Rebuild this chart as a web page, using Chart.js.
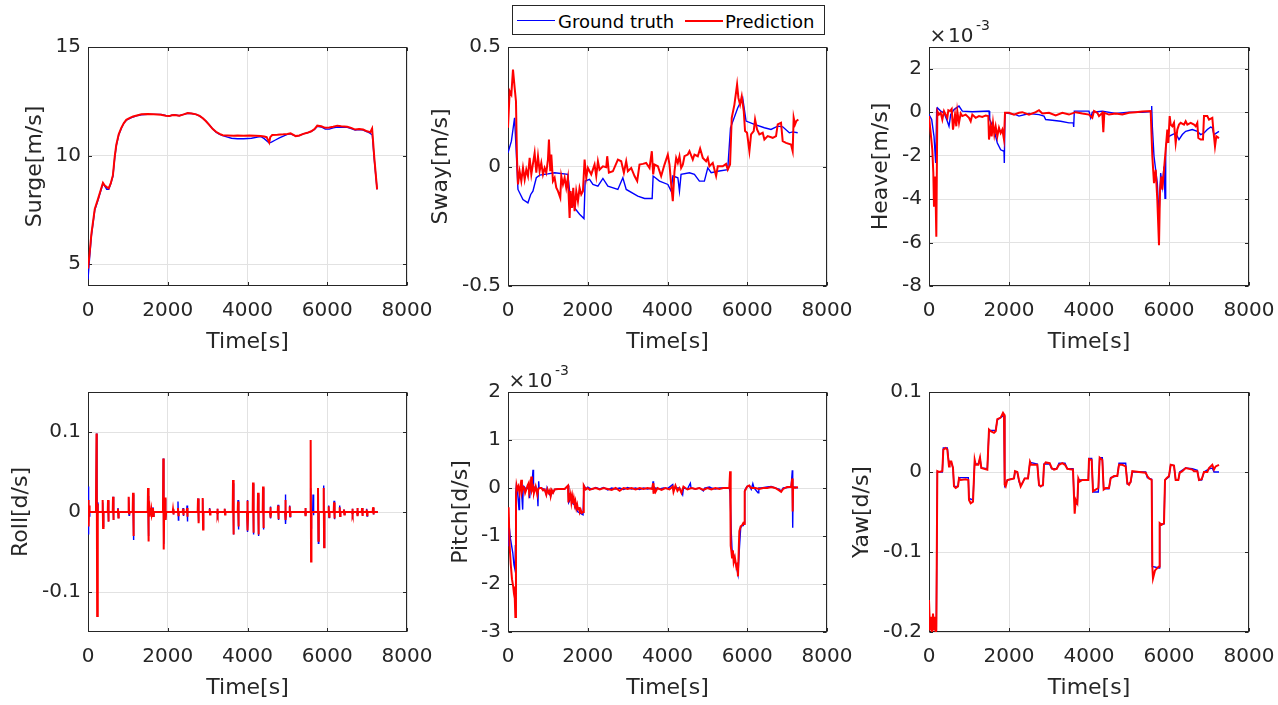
<!DOCTYPE html>
<html><head><meta charset="utf-8">
<script src="https://cdn.jsdelivr.net/npm/chart.js@4.4.1/dist/chart.umd.min.js"></script>
<style>
html,body{margin:0;padding:0;background:#fff;}
body{width:1278px;height:705px;position:relative;overflow:hidden;}
canvas{position:absolute;}
#legend{position:absolute;left:512px;top:5px;width:311px;height:28px;border:1px solid #262626;background:#fff;z-index:5;font-family:"DejaVu Sans",sans-serif;font-size:18px;color:#000;}
#legend .ln{position:absolute;top:14px;width:38px;height:1.3px;}
#legend .lt{position:absolute;top:2px;line-height:28px;white-space:nowrap;}
</style></head><body>
<div id="legend">
  <span class="ln" style="left:4px;background:#0000ff"></span><span class="lt" style="left:45px">Ground truth</span>
  <span class="ln" style="left:172px;background:#ff0000;height:1.8px"></span><span class="lt" style="left:212px">Prediction</span>
</div>
<script>
// ---------- tick values ----------
const timeTicks = [0, 2000, 4000, 6000, 8000];
const surgeTicks = [5, 10, 15];
const swayTicks = [-0.5, 0, 0.5];
const heaveTicks = [-8, -6, -4, -2, 0, 2];     // x 10^-3
const rollTicks = [-0.1, 0, 0.1];
const pitchTicks = [-3, -2, -1, 0, 1, 2];      // x 10^-3
const yawTicks = [-0.2, -0.1, 0, 0.1];

// ---------- data: [time s, value] ----------
const surgeGT = [[0,4.3],[40,5.3],[85,6.3],[170,7.5],[250,7.95],[375,8.72],[420,8.6],[470,8.45],[520,8.45],[570,8.7],[625,9.05],[670,9.9],[710,10.45],[770,10.95],[835,11.25],[900,11.5],[960,11.63],[1050,11.72],[1130,11.78],[1250,11.85],[1340,11.88],[1500,11.9],[1650,11.9],[1830,11.9],[1950,11.85],[2040,11.82],[2100,11.86],[2170,11.88],[2290,11.84],[2400,11.9],[2500,11.95],[2600,11.94],[2710,11.9],[2800,11.82],[2880,11.72],[2960,11.58],[3040,11.42],[3130,11.22],[3210,11.08],[3300,10.98],[3380,10.92],[3500,10.85],[3600,10.8],[3750,10.78],[3900,10.78],[4100,10.8],[4250,10.85],[4330,10.88],[4420,10.78],[4500,10.65],[4545,10.58],[4600,10.62],[4700,10.72],[4800,10.82],[4900,10.9],[5000,10.98],[5080,11.0],[5210,10.9],[5300,10.92],[5400,11.0],[5500,11.05],[5600,11.12],[5680,11.2],[5750,11.35],[5850,11.32],[5950,11.22],[6050,11.22],[6150,11.28],[6250,11.32],[6350,11.3],[6500,11.3],[6600,11.25],[6700,11.18],[6800,11.2],[6900,11.18],[7000,11.1],[7080,11.02],[7130,10.95],[7180,9.8],[7250,8.45]];
const surgePred = [[0,4.8],[40,5.5],[85,6.4],[170,7.55],[250,8.0],[375,8.75],[420,8.62],[470,8.55],[520,8.5],[570,8.72],[625,9.1],[670,9.95],[710,10.5],[770,10.98],[835,11.28],[900,11.5],[960,11.65],[1050,11.74],[1130,11.8],[1250,11.86],[1340,11.9],[1500,11.92],[1650,11.91],[1830,11.88],[1950,11.84],[2040,11.82],[2100,11.86],[2170,11.87],[2290,11.84],[2400,11.9],[2500,11.96],[2600,11.94],[2710,11.9],[2800,11.83],[2880,11.72],[2960,11.58],[3040,11.42],[3130,11.22],[3210,11.1],[3300,11.0],[3380,10.94],[3500,10.93],[3650,10.92],[3750,10.93],[3900,10.92],[4050,10.93],[4200,10.92],[4330,10.9],[4420,10.88],[4480,10.85],[4545,10.6],[4570,10.85],[4620,10.95],[4750,10.96],[4900,10.98],[5000,11.0],[5080,11.03],[5210,10.9],[5300,10.93],[5400,11.0],[5500,11.05],[5600,11.12],[5680,11.22],[5750,11.38],[5850,11.35],[5950,11.28],[6050,11.3],[6150,11.33],[6250,11.38],[6350,11.35],[6500,11.33],[6600,11.28],[6700,11.2],[6800,11.22],[6900,11.2],[7000,11.12],[7080,11.08],[7125,11.25],[7180,9.9],[7250,8.45]];

const swayGT = [[0,0.057],[85,0.106],[165,0.204],[210,0.05],[250,-0.096],[375,-0.138],[500,-0.152],[570,-0.117],[625,-0.103],[710,-0.047],[795,-0.036],[1000,-0.031],[1170,-0.026],[1500,-0.033],[1545,-0.103],[1670,-0.173],[1795,-0.2],[1905,-0.218],[1935,-0.061],[2045,-0.054],[2130,-0.075],[2255,-0.082],[2380,-0.05],[2505,-0.082],[2755,-0.096],[2880,-0.047],[2965,-0.096],[3255,-0.124],[3425,-0.134],[3615,-0.134],[3640,-0.04],[3800,-0.061],[4010,-0.075],[4090,-0.103],[4135,-0.04],[4260,-0.047],[4300,-0.103],[4340,-0.033],[4550,-0.026],[4675,-0.033],[4800,-0.061],[4925,-0.061],[5010,-0.006],[5095,-0.026],[5260,-0.02],[5510,-0.013],[5580,0.162],[5760,0.245],[5885,0.287],[5970,0.19],[6180,0.176],[6430,0.162],[6595,0.155],[6765,0.169],[6890,0.166],[7055,0.141],[7140,0.145],[7265,0.141]];
const swayPred = [[0,0.162],[42,0.315],[84,0.301],[125,0.406],[167,0.329],[200,0.273],[225,0.036],[250,-0.075],[292,-0.02],[334,-0.061],[376,-0.006],[418,-0.054],[459,-0.013],[501,-0.04],[543,0.036],[585,-0.033],[668,0.057],[710,-0.026],[752,0.043],[793,-0.02],[835,0.015],[877,-0.033],[919,-0.006],[960,-0.026],[1002,0.029],[1027,0.113],[1060,-0.02],[1086,0.05],[1127,-0.061],[1169,-0.047],[1211,-0.089],[1253,-0.103],[1311,-0.131],[1336,-0.04],[1378,-0.075],[1420,-0.047],[1461,-0.089],[1503,-0.047],[1545,-0.215],[1570,-0.103],[1603,-0.173],[1637,-0.089],[1670,-0.187],[1712,-0.103],[1754,-0.145],[1795,-0.089],[1837,-0.117],[1879,-0.103],[1921,0.029],[1962,-0.047],[2004,-0.006],[2088,-0.033],[2171,0.008],[2213,-0.04],[2255,0.022],[2296,-0.013],[2380,0.001],[2463,-0.003],[2488,0.043],[2530,-0.026],[2630,-0.02],[2756,0.029],[2839,0.022],[2906,-0.026],[2964,0.022],[3006,-0.02],[3090,-0.006],[3173,-0.04],[3240,-0.061],[3298,0.008],[3382,0.011],[3465,0.015],[3549,-0.006],[3607,0.064],[3641,-0.033],[3674,0.008],[3758,0.001],[3841,-0.04],[3925,0.008],[4008,0.05],[4050,0.008],[4092,-0.075],[4133,-0.145],[4175,-0.02],[4217,0.036],[4259,0.015],[4300,0.043],[4342,-0.006],[4384,0.008],[4426,0.043],[4509,0.05],[4551,0.064],[4634,0.029],[4676,0.05],[4760,0.043],[4818,0.075],[4885,0.036],[4968,0.022],[5010,0.036],[5052,0.001],[5135,0.015],[5219,-0.04],[5261,0.001],[5386,0.001],[5469,0.011],[5511,-0.013],[5569,0.008],[5611,0.204],[5678,0.259],[5745,0.343],[5778,0.287],[5820,0.259],[5862,0.294],[5912,0.232],[5945,0.148],[5995,0.141],[6054,0.064],[6096,0.134],[6162,0.148],[6196,0.197],[6246,0.155],[6304,0.134],[6388,0.141],[6430,0.113],[6513,0.127],[6638,0.12],[6722,0.127],[6764,0.176],[6847,0.183],[6889,0.106],[6972,0.099],[7098,0.092],[7139,0.064],[7164,0.204],[7198,0.176],[7231,0.19],[7281,0.197]];

const heaveGT = [[0,-0.11],[67,-0.34],[125,-1.11],[167,-2.34],[192,0.12],[208,0.2],[292,0.05],[375,-0.03],[458,-0.42],[500,-0.65],[542,-0.11],[625,0.12],[750,0.28],[833,0.05],[1083,0.02],[1500,0.05],[1517,-0.34],[1625,-0.8],[1708,-1.42],[1792,-1.73],[1875,-1.8],[1883,-2.34],[1900,-0.03],[2167,-0.11],[2250,-0.18],[2500,-0.06],[2750,-0.11],[2875,-0.18],[2917,-0.34],[3083,-0.37],[3292,-0.42],[3500,-0.49],[3608,-0.49],[3617,-0.68],[3633,0.05],[4000,0.05],[4042,-0.26],[4083,0],[4333,0.05],[4667,-0.06],[5000,0],[5333,0],[5550,0.03],[5567,0.28],[5583,-0.65],[5625,-2.03],[5708,-3.27],[5750,-4.81],[5792,-2.8],[5833,-3.42],[5875,-2.5],[5900,-3.96],[5917,-1.57],[5958,-1.26],[6000,-1.11],[6083,-1.03],[6167,-0.96],[6250,-1.26],[6333,-1.03],[6417,-0.88],[6583,-0.8],[6708,-0.88],[6792,-1.03],[6875,-0.96],[6958,-0.8],[7042,-0.68],[7083,-0.72],[7125,-1.03],[7183,-0.96],[7250,-0.88]];
const heavePred = [[0,-0.18],[42,-0.96],[83,-1.73],[108,-2.8],[125,-4.35],[150,-2.96],[167,-4.04],[183,-5.73],[208,0.05],[250,-0.11],[292,-0.03],[333,-0.34],[375,0.05],[417,-0.11],[458,-0.26],[483,0.09],[525,0.05],[567,0.15],[600,-0.8],[650,-0.11],[683,-0.65],[708,0.05],[750,-0.49],[792,-0.06],[833,-0.18],[917,-0.11],[1000,-0.26],[1042,-0.42],[1083,-0.11],[1167,-0.26],[1250,-0.18],[1333,-0.22],[1417,-0.15],[1483,-0.18],[1500,-1.26],[1542,-0.65],[1567,-1.11],[1600,-0.49],[1633,-1.03],[1667,-0.65],[1708,-1.11],[1750,-0.72],[1792,-0.96],[1833,-0.8],[1875,-1.26],[1900,-0.03],[2000,-0.03],[2125,-0.11],[2250,-0.03],[2333,0],[2500,-0.11],[2667,0],[2750,0.09],[2833,-0.06],[3000,-0.03],[3167,-0.15],[3333,-0.03],[3500,-0.11],[3667,0],[3833,-0.06],[4000,-0.11],[4083,-0.26],[4125,0.05],[4208,-0.03],[4250,-0.18],[4333,-0.03],[4358,-0.92],[4383,-0.03],[4500,-0.11],[4667,-0.06],[4833,-0.11],[5000,-0.03],[5167,0],[5333,0.03],[5542,0.05],[5583,-2.03],[5625,-3.27],[5667,-2.65],[5708,-4.04],[5750,-6.12],[5775,-3.57],[5808,-2.96],[5833,-3.57],[5875,-2.65],[5917,-1.73],[5958,-0.8],[5983,-1.42],[6017,-0.18],[6042,-0.57],[6083,-0.65],[6125,-0.49],[6167,-1.42],[6208,-0.8],[6250,-0.57],[6292,-0.49],[6375,-0.57],[6417,-0.42],[6458,-0.57],[6542,-0.49],[6625,-0.57],[6667,-0.65],[6708,-0.49],[6733,-1.19],[6792,-1.26],[6850,-1.26],[6875,-0.18],[6958,-0.18],[7000,-0.34],[7083,-0.26],[7108,-0.8],[7150,-1.57],[7183,-1.11],[7250,-1.19]];

const rollGT = [[0,0],[5,0.032],[15,-0.028],[25,0.01],[35,-0.005],[45,0],[200,0],[215,0.098],[225,-0.049],[240,0.012],[250,0],[360,0],[368,0.012],[378,-0.018],[390,0],[495,0],[502,0.014],[512,-0.012],[520,0],[620,0],[627,0.019],[637,-0.01],[645,0],[745,0],[752,0.005],[762,-0.007],[770,0],[1012,0],[1020,0.018],[1030,-0.004],[1040,0],[1120,0],[1129,0.022],[1139,-0.035],[1150,0],[1497,0],[1505,0.02],[1515,-0.03],[1525,0],[1622,0],[1630,0.006],[1640,-0.005],[1650,0],[1880,0],[1889,0.067],[1899,-0.04],[1910,0],[1932,0],[1940,0.016],[1950,-0.01],[1960,0],[2125,0],[2132,0.004],[2142,-0.003],[2150,0],[2250,0],[2257,0.013],[2267,-0.01],[2275,0],[2375,0],[2383,0.005],[2393,-0.005],[2400,0],[2475,0],[2483,0.008],[2493,-0.012],[2500,0],[2750,0],[2759,0.017],[2769,-0.012],[2780,0],[2868,0],[2876,0.016],[2886,-0.02],[2895,0],[3043,0],[3051,0.005],[3061,-0.003],[3070,0],[3236,0],[3244,0.004],[3254,-0.003],[3262,0],[3420,0],[3428,0.004],[3438,-0.003],[3446,0],[3628,0],[3637,0.036],[3647,-0.028],[3657,0],[3754,0],[3762,0.015],[3772,-0.022],[3782,0],[3988,0],[3996,0.015],[4006,-0.025],[4016,0],[4130,0],[4138,0.035],[4148,-0.028],[4158,0],[4256,0],[4264,0.022],[4274,-0.03],[4284,0],[4381,0],[4389,0.03],[4399,-0.022],[4409,0],[4565,0],[4573,0.007],[4583,-0.008],[4593,0],[4757,0],[4765,0.009],[4775,-0.01],[4785,0],[4941,0],[4949,0.022],[4959,-0.015],[4969,0],[5050,0],[5058,0.008],[5068,-0.006],[5078,0],[5443,0],[5451,0.005],[5461,-0.005],[5471,0],[5576,0],[5584,0.03],[5594,-0.02],[5604,0],[5635,0],[5643,0.022],[5653,-0.004],[5663,0],[5760,0],[5768,0.028],[5778,-0.039],[5788,0],[5903,0],[5911,0.033],[5921,-0.044],[5931,0],[6028,0],[6036,0.008],[6046,-0.007],[6056,0],[6162,0],[6170,0.014],[6180,-0.009],[6190,0],[6304,0],[6312,0.008],[6322,-0.005],[6332,0],[6412,0],[6420,0.003],[6430,-0.003],[6440,0],[6622,0],[6630,0.004],[6640,-0.003],[6650,0],[6747,0],[6755,0.005],[6765,-0.005],[6775,0],[6864,0],[6872,0.005],[6882,-0.005],[6892,0],[6981,0],[6989,0.004],[6999,-0.005],[7009,0],[7140,0],[7148,0.005],[7158,-0.003],[7168,0],[7270,0]];
const rollPred = [[0,0],[10,0.015],[20,-0.018],[30,0.008],[40,0],[200,0],[213,0.098],[220,0.043],[230,-0.13],[240,0.01],[250,0],[360,0],[368,0.015],[378,-0.02],[390,0],[495,0],[502,0.015],[512,-0.012],[520,0],[620,0],[627,0.019],[637,-0.01],[645,0],[745,0],[752,0.004],[762,-0.007],[770,0],[1012,0],[1020,0.019],[1030,-0.002],[1040,0],[1120,0],[1129,0.024],[1139,-0.03],[1150,0],[1497,0],[1505,0.03],[1515,-0.037],[1525,0],[1540,0.005],[1550,-0.006],[1560,0.004],[1575,-0.004],[1590,0.003],[1605,-0.003],[1622,0],[1630,0.005],[1640,-0.005],[1650,0],[1880,0],[1889,0.067],[1899,-0.047],[1910,0],[1932,0],[1940,0.018],[1950,-0.01],[1960,0],[2125,0],[2132,0.003],[2142,-0.003],[2150,0],[2250,0],[2257,0.005],[2267,-0.004],[2275,0],[2375,0],[2383,0.004],[2393,-0.004],[2400,0],[2475,0],[2483,0.005],[2493,-0.006],[2500,0],[2750,0],[2759,0.017],[2769,-0.014],[2780,0],[2868,0],[2876,0.0175],[2886,-0.022],[2895,0],[3043,0],[3051,0.004],[3061,-0.003],[3070,0],[3236,0],[3244,0.004],[3254,-0.003],[3262,0],[3420,0],[3428,0.004],[3438,-0.003],[3446,0],[3628,0],[3637,0.04],[3647,-0.028],[3657,0],[3754,0],[3762,0.013],[3772,-0.018],[3782,0],[3988,0],[3996,0.014],[4006,-0.023],[4016,0],[4130,0],[4138,0.037],[4148,-0.026],[4158,0],[4256,0],[4264,0.024],[4274,-0.028],[4284,0],[4381,0],[4389,0.032],[4399,-0.02],[4409,0],[4565,0],[4573,0.006],[4583,-0.007],[4593,0],[4757,0],[4765,0.008],[4775,-0.009],[4785,0],[4941,0],[4949,0.015],[4959,-0.01],[4969,0],[5050,0],[5058,0.007],[5068,-0.005],[5078,0],[5443,0],[5451,0.005],[5461,-0.005],[5471,0],[5576,0],[5584,0.09],[5594,-0.062],[5604,0],[5760,0],[5768,0.03],[5778,-0.036],[5788,0],[5903,0],[5911,0.03],[5921,-0.044],[5931,0],[6028,0],[6036,0.007],[6046,-0.006],[6056,0],[6162,0],[6170,0.012],[6180,-0.008],[6190,0],[6304,0],[6312,0.006],[6322,-0.005],[6332,0],[6412,0],[6420,0.003],[6430,-0.003],[6440,0],[6622,0],[6630,0.004],[6640,-0.003],[6650,0],[6747,0],[6755,0.005],[6765,-0.005],[6775,0],[6864,0],[6872,0.005],[6882,-0.005],[6892,0],[6981,0],[6989,0.003],[6999,-0.004],[7009,0],[7140,0],[7148,0.006],[7158,-0.003],[7168,0],[7270,0]];

const pitchGT = [[0,-1.2],[10,-0.6],[30,-0.8],[60,-1.05],[90,-1.2],[120,-1.35],[150,-1.6],[175,-1.7],[185,-1.2],[195,-0.1],[210,0.05],[234,-0.03],[276,-0.45],[290,0.0],[334,0.03],[368,-0.45],[380,0.0],[401,0.03],[460,-0.03],[518,0.02],[543,-0.21],[560,0.0],[600,0.05],[627,0.38],[640,0.0],[694,0.03],[736,-0.1],[752,-0.38],[760,0.0],[769,0.14],[780,0.0],[836,0.0],[920,-0.03],[961,-0.14],[980,0.0],[1020,-0.1],[1070,-0.17],[1100,-0.05],[1129,-0.1],[1170,-0.03],[1254,-0.02],[1421,-0.02],[1505,0.05],[1522,-0.3],[1588,-0.2],[1630,-0.33],[1672,-0.35],[1714,-0.45],[1756,-0.5],[1822,-0.53],[1881,-0.56],[1906,0.05],[1950,-0.02],[2000,0.02],[2100,-0.03],[2200,0.01],[2300,-0.02],[2400,0.01],[2500,-0.04],[2600,0.0],[2700,-0.02],[2800,0.0],[2900,-0.03],[3000,0.01],[3100,-0.02],[3200,0.0],[3300,-0.03],[3400,0.0],[3500,-0.02],[3620,0.0],[3637,0.14],[3650,-0.05],[3700,0.0],[3800,-0.02],[3900,0.0],[4000,-0.01],[4130,0.07],[4140,-0.02],[4200,0.0],[4300,0.0],[4380,-0.14],[4400,0.0],[4500,-0.02],[4573,0.1],[4590,0.0],[4700,-0.02],[4800,0.0],[4900,-0.06],[4930,0.0],[5050,0.02],[5100,0.0],[5200,-0.02],[5300,0.0],[5400,0.0],[5550,0.0],[5570,-0.1],[5600,-0.94],[5618,-1.28],[5660,-1.39],[5727,-1.63],[5768,-1.8],[5802,-1.28],[5835,-0.83],[5869,-0.78],[5900,-0.78],[5919,-0.73],[5936,-0.05],[5990,0.03],[6050,0.05],[6100,-0.03],[6140,0.09],[6170,0.0],[6270,-0.1],[6290,0.0],[6350,0.0],[6500,0.02],[6600,0.03],[6700,0.0],[6810,-0.03],[6850,-0.07],[6900,0.0],[7000,0.01],[7100,0.02],[7130,0.37],[7140,-0.83],[7150,0.0],[7200,0.02],[7270,0.0]];
const pitchPred = [[0,-0.8],[15,-0.4],[40,-1.2],[70,-1.6],[100,-1.9],[130,-2.05],[150,-2.2],[170,-2.3],[185,-2.69],[200,-0.2],[215,0.05],[234,-0.03],[260,0.03],[290,-0.1],[334,0.17],[350,-0.08],[380,0.02],[401,0.03],[430,-0.1],[460,-0.03],[490,0.05],[518,0.1],[530,-0.1],[560,0.0],[585,0.24],[600,-0.05],[630,0.02],[652,-0.1],[694,0.03],[736,-0.14],[760,-0.02],[800,0.0],[836,0.0],[880,-0.05],[920,-0.03],[961,-0.14],[990,-0.03],[1020,-0.1],[1050,-0.05],[1070,-0.17],[1100,-0.05],[1129,-0.1],[1170,-0.03],[1254,-0.02],[1421,-0.02],[1505,0.05],[1515,-0.3],[1530,-0.1],[1550,-0.25],[1570,-0.15],[1590,-0.3],[1610,-0.18],[1630,-0.32],[1650,-0.22],[1672,-0.35],[1690,-0.28],[1714,-0.42],[1735,-0.35],[1756,-0.45],[1780,-0.4],[1800,-0.5],[1822,-0.45],[1850,-0.52],[1881,-0.5],[1900,0.05],[1950,-0.03],[2000,0.0],[2050,-0.04],[2100,-0.02],[2200,0.0],[2300,-0.03],[2400,0.0],[2500,-0.02],[2600,-0.04],[2700,0.0],[2800,-0.06],[2900,0.0],[3000,-0.02],[3100,0.0],[3200,-0.03],[3300,0.0],[3400,-0.02],[3500,0.0],[3620,-0.02],[3637,0.1],[3650,-0.12],[3670,0.0],[3700,-0.08],[3750,0.0],[3850,-0.04],[3950,0.0],[4050,-0.03],[4130,0.03],[4150,-0.08],[4200,0.05],[4250,-0.06],[4300,0.0],[4350,-0.1],[4400,0.03],[4500,-0.03],[4600,0.0],[4700,-0.02],[4800,0.0],[4900,-0.04],[5000,0.0],[5100,-0.03],[5200,0.0],[5300,-0.02],[5400,0.0],[5550,0.0],[5570,0.35],[5585,-1.2],[5600,-1.3],[5618,-1.45],[5640,-1.3],[5660,-1.55],[5690,-1.45],[5727,-1.65],[5750,-1.6],[5768,-1.84],[5790,-1.2],[5802,-0.9],[5835,-0.8],[5869,-0.78],[5900,-0.73],[5919,-0.75],[5936,-0.07],[6000,0.03],[6050,0.05],[6100,0.0],[6200,0.0],[6300,-0.02],[6400,0.0],[6500,0.0],[6600,0.02],[6700,0.0],[6800,-0.05],[6850,-0.08],[6900,-0.02],[7000,0.02],[7100,0.02],[7130,0.2],[7140,-0.49],[7150,0.03],[7200,0.0],[7270,0.02]];

const yawGT = [[0,-0.19],[50,-0.185],[100,-0.19],[150,-0.185],[183,-0.195],[208,0],[333,0],[358,0.03],[458,0.03],[500,0.01],[517,0.012],[558,0.012],[600,0.005],[625,-0.018],[725,-0.018],[750,-0.007],[983,-0.007],[1000,-0.033],[1100,-0.035],[1142,0.013],[1167,0.01],[1233,0.01],[1275,0.017],[1308,0.005],[1458,0.004],[1500,0.052],[1667,0.052],[1708,0.065],[1850,0.07],[1875,0.07],[1892,-0.017],[1958,-0.01],[2125,-0.008],[2150,0],[2208,0],[2250,-0.012],[2292,-0.017],[2333,-0.014],[2392,-0.008],[2475,-0.008],[2525,0.012],[2708,0.01],[2750,-0.017],[2850,-0.017],[2875,0.01],[3017,0.01],[3067,0.004],[3192,0.004],[3250,0.011],[3400,0.011],[3458,0.004],[3600,0.004],[3625,-0.03],[3667,-0.04],[3708,-0.04],[3733,-0.01],[3983,-0.01],[4000,0.017],[4067,0.017],[4100,-0.025],[4233,-0.025],[4267,0.018],[4333,0.018],[4367,-0.021],[4500,-0.021],[4542,-0.007],[4708,-0.005],[4750,0.011],[4917,0.011],[4958,-0.015],[5042,-0.013],[5083,0],[5417,0],[5458,-0.007],[5567,-0.009],[5583,-0.118],[5750,-0.12],[5767,-0.065],[5875,-0.065],[5900,-0.01],[6000,-0.006],[6042,0.009],[6125,0.008],[6167,-0.01],[6233,-0.01],[6267,0],[6417,0.005],[6583,0.004],[6708,0.002],[6750,-0.01],[6817,-0.01],[6875,0],[7000,0.004],[7083,0.005],[7125,0],[7250,0]];
const yawPred = [[0,-0.16],[25,-0.198],[50,-0.181],[75,-0.2],[100,-0.177],[125,-0.198],[150,-0.181],[167,-0.2],[183,-0.198],[208,0.001],[250,0],[333,0.001],[358,0.028],[417,0.03],[458,0.028],[500,0.007],[517,0.013],[558,0.013],[600,0.005],[625,-0.018],[667,-0.02],[725,-0.018],[750,-0.008],[792,-0.01],[917,-0.009],[983,-0.01],[1000,-0.035],[1042,-0.039],[1100,-0.037],[1142,0.015],[1167,0.009],[1233,0.009],[1275,0.018],[1308,0.005],[1458,0.003],[1500,0.053],[1542,0.051],[1625,0.049],[1667,0.051],[1708,0.066],[1792,0.068],[1850,0.074],[1875,0.072],[1892,-0.016],[1917,-0.018],[1958,-0.01],[2042,-0.009],[2125,-0.008],[2150,0.001],[2208,0],[2250,-0.01],[2292,-0.018],[2333,-0.014],[2392,-0.008],[2475,-0.008],[2525,0.013],[2558,0.009],[2708,0.009],[2750,-0.016],[2792,-0.018],[2850,-0.016],[2875,0.009],[2917,0.012],[3017,0.011],[3067,0.005],[3125,0.003],[3192,0.004],[3250,0.009],[3333,0.011],[3400,0.009],[3458,0.004],[3567,0.003],[3600,0.003],[3625,-0.031],[3642,-0.052],[3667,-0.035],[3708,-0.039],[3733,-0.008],[3767,-0.012],[3833,-0.01],[3917,-0.01],[3983,-0.01],[4000,0.016],[4067,0.015],[4100,-0.024],[4167,-0.022],[4233,-0.02],[4267,0.018],[4333,0.015],[4367,-0.022],[4417,-0.02],[4500,-0.02],[4542,-0.008],[4625,-0.005],[4708,-0.005],[4750,0.009],[4833,0.009],[4917,0.007],[4958,-0.014],[5000,-0.016],[5042,-0.012],[5083,0.001],[5250,0],[5417,-0.001],[5458,-0.005],[5500,-0.008],[5567,-0.01],[5583,-0.118],[5600,-0.133],[5650,-0.123],[5708,-0.12],[5750,-0.118],[5767,-0.064],[5817,-0.066],[5875,-0.064],[5900,-0.01],[5933,-0.008],[6000,-0.005],[6042,0.009],[6125,0.008],[6167,-0.01],[6233,-0.01],[6267,-0.001],[6333,0.001],[6417,0.005],[6583,0.003],[6625,0.001],[6708,0.001],[6750,-0.01],[6817,-0.009],[6875,0],[6958,0],[7000,0.005],[7083,0.009],[7125,0.003],[7167,0.007],[7250,0.009]];

// ---------- layout / style ----------
const FONT = '"DejaVu Sans", sans-serif';
const TXT = '#262626';
const M = {left: 88, top: 40, right: 44, bottom: 75};

const panels = [
  {title: 'Surge[m/s]', rect: [88, 47, 319, 239], min: 4, max: 15, ticks: surgeTicks, gt: surgeGT, pr: surgePred, tpad: 22},
  {title: 'Sway[m/s]', rect: [508, 47, 319, 239], min: -0.5, max: 0.5, ticks: swayTicks, gt: swayGT, pr: swayPred, tpad: 7.8},
  {title: 'Heave[m/s]', rect: [929, 47, 320, 239], min: -8, max: 3, ticks: heaveTicks, gt: heaveGT, pr: heavePred, tpad: 26.8, exp: true},
  {title: 'Roll[d/s]', rect: [88, 392, 319, 240], min: -0.15, max: 0.15, ticks: rollTicks, gt: rollGT, pr: rollPred, tpad: 7.8},
  {title: 'Pitch[d/s]', rect: [508, 392, 319, 240], min: -3, max: 2, ticks: pitchTicks, gt: pitchGT, pr: pitchPred, tpad: 27.8, exp: true},
  {title: 'Yaw[d/s]', rect: [929, 392, 320, 240], min: -0.2, max: 0.1, ticks: yawTicks, gt: yawGT, pr: yawPred, tpad: 8.3}
];

const framePlugin = {
  id: 'frame',
  beforeDatasetsDraw(chart) {
    const {ctx, chartArea: a, scales} = chart;
    const L = Math.round(a.left) + 0.5, R = Math.round(a.right) - 0.5;
    const T = Math.round(a.top) + 0.5, B = Math.round(a.bottom) - 0.5;
    ctx.save();
    ctx.strokeStyle = TXT; ctx.lineWidth = 1;
    ctx.strokeRect(L, T, R - L, B - T);
    const tl = 3.5;
    ctx.beginPath();
    scales.x.ticks.forEach(t => {
      const px = Math.round(scales.x.getPixelForValue(t.value)) + 0.5;
      ctx.moveTo(px, B); ctx.lineTo(px, B - tl);
      ctx.moveTo(px, T); ctx.lineTo(px, T + tl);
    });
    scales.y.ticks.forEach(t => {
      const py = Math.round(scales.y.getPixelForValue(t.value)) + 0.5;
      ctx.moveTo(L, py); ctx.lineTo(L + tl, py);
      ctx.moveTo(R, py); ctx.lineTo(R - tl, py);
    });
    ctx.stroke();
    ctx.restore();
  },
  afterDraw(chart, args, opts) {
    if (!opts.exp) return;
    const {ctx, chartArea: a} = chart;
    ctx.save();
    ctx.fillStyle = TXT;
    ctx.font = '20px ' + FONT;
    ctx.textBaseline = 'middle'; ctx.textAlign = 'center';
    ctx.fillText('\u00d7', a.left + 9, a.top - 10);
    ctx.textBaseline = 'alphabetic'; ctx.textAlign = 'left';
    ctx.fillText('10', a.left + 19, a.top - 5.3);
    ctx.font = '14px ' + FONT;
    ctx.fillText('-3', a.left + 47, a.top - 17);
    ctx.restore();
  }
};

const fmt = v => String(+Number(v).toFixed(4));

panels.forEach(p => {
  const [l, t, w, h] = p.rect;
  const cv = document.createElement('canvas');
  const cw = M.left + w + M.right, ch = M.top + h + M.bottom;
  cv.width = cw; cv.height = ch;
  cv.style.left = (l - M.left) + 'px'; cv.style.top = (t - M.top) + 'px';
  cv.style.width = cw + 'px'; cv.style.height = ch + 'px';
  document.body.appendChild(cv);
  const toXY = arr => arr.map(d => ({x: d[0], y: d[1]}));
  new Chart(cv, {
    type: 'line',
    data: {
      datasets: [
        {label: 'Ground truth', data: toXY(p.gt), borderColor: '#0000ff', borderWidth: 1.4, pointRadius: 0, tension: 0, order: 1},
        {label: 'Prediction', data: toXY(p.pr), borderColor: '#ff0000', borderWidth: 2.0, pointRadius: 0, tension: 0, order: 0}
      ]
    },
    options: {
      responsive: false, animation: false, devicePixelRatio: 1,
      events: [],
      layout: {padding: {left: 0, top: M.top, right: M.right, bottom: 0}},
      plugins: {legend: {display: false}, tooltip: {enabled: false}, frame: {exp: !!p.exp}},
      scales: {
        x: {
          type: 'linear', min: 0, max: 8000,
          afterBuildTicks: s => { s.ticks = timeTicks.map(v => ({value: v})); },
          afterFit: s => { s.height = M.bottom; },
          grid: {color: '#e2e2e2', drawTicks: false, lineWidth: 1},
          border: {display: false},
          ticks: {color: TXT, font: {family: FONT, size: 20}, padding: 12.5, maxRotation: 0, autoSkip: false, callback: fmt},
          title: {display: true, text: 'Time[s]', color: TXT, font: {family: FONT, size: 22}, padding: {top: 0, bottom: 5.7}}
        },
        y: {
          type: 'linear', min: p.min, max: p.max,
          afterBuildTicks: s => { s.ticks = p.ticks.map(v => ({value: v})); },
          afterFit: s => { s.width = M.left; },
          grid: {color: '#e2e2e2', drawTicks: false, lineWidth: 1},
          border: {display: false},
          ticks: {color: TXT, font: {family: FONT, size: 20}, padding: 7, autoSkip: false, callback: fmt},
          title: {display: true, text: p.title, color: TXT, font: {family: FONT, size: 22}, padding: {top: p.tpad, bottom: 0}}
        }
      }
    },
    plugins: [framePlugin]
  });
});
</script>
</body></html>
